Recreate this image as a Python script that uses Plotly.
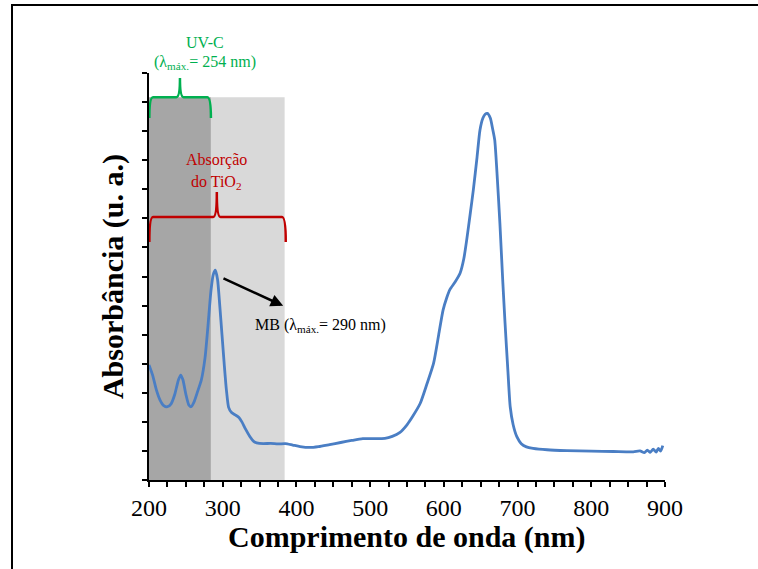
import plotly.graph_objects as go

# Absorption spectrum of methylene blue (MB)
wavelength_nm = [
    200, 205, 210, 215, 220, 225, 230, 235, 240, 243, 246, 250, 254, 257, 261,
    266, 271, 276, 280, 284, 287, 290, 293, 296, 299, 302, 305, 308, 312, 317,
    322, 326, 331, 337, 342, 346, 355, 365, 375, 385, 395, 405, 418, 430, 445,
    460, 475, 490, 505, 520, 530, 540, 550, 558, 568, 577, 586, 593, 599, 604,
    608, 615, 622, 627, 631, 636, 640, 645, 649, 653, 656, 659, 663, 666, 669,
    672, 676, 680, 683, 687, 690, 694, 699, 705, 712, 721, 740, 767, 800, 830,
    857, 866, 872, 876, 880, 884, 888, 891, 894, 897,
]
absorbance = [
    0.396, 0.360, 0.310, 0.275, 0.256, 0.252, 0.262, 0.295, 0.345, 0.361, 0.345,
    0.295, 0.258, 0.252, 0.268, 0.305, 0.344, 0.420, 0.530, 0.650, 0.705, 0.722,
    0.690, 0.600, 0.500, 0.400, 0.310, 0.250, 0.232, 0.224, 0.215, 0.200, 0.175,
    0.149, 0.133, 0.128, 0.125, 0.126, 0.124, 0.125, 0.120, 0.115, 0.112, 0.115,
    0.122, 0.129, 0.136, 0.142, 0.142, 0.143, 0.150, 0.163, 0.190, 0.220, 0.264,
    0.330, 0.401, 0.500, 0.585, 0.628, 0.654, 0.680, 0.711, 0.760, 0.826, 0.920,
    0.998, 1.110, 1.204, 1.245, 1.258, 1.261, 1.245, 1.210, 1.170, 1.060, 0.884,
    0.680, 0.540, 0.370, 0.252, 0.190, 0.149, 0.125, 0.114, 0.109, 0.104, 0.101,
    0.099, 0.098, 0.097, 0.100, 0.094, 0.103, 0.095, 0.106, 0.096, 0.109, 0.099,
    0.118,
]

# Spectral bands highlighted behind the curve (nm)
uvc_band = [200, 284]
tio2_band = [284, 384]
band_top = 1.317

x_ticks = [200, 300, 400, 500, 600, 700, 800, 900]
x_tick_text = ["200", "300", "400", "500", "600", "700", "800", "900"]

SERIF = "Liberation Serif"
BLUE = "#4A7EC4"
GREEN = "#00B050"
RED = "#C00000"


def brace(x0, x1, xm, y_base, y_end, y_tip, rx):
    """Horizontal curly brace opening downward, pointing up at xm."""
    return (
        f"M {x0},{y_end} Q {x0},{y_base} {x0 + rx},{y_base} "
        f"L {xm - rx},{y_base} Q {xm},{y_base} {xm},{y_tip} "
        f"Q {xm},{y_base} {xm + rx},{y_base} "
        f"L {x1 - rx},{y_base} Q {x1},{y_base} {x1},{y_end}"
    )


fig = go.Figure()

fig.add_trace(go.Scatter(
    x=wavelength_nm, y=absorbance, mode="lines",
    line=dict(color=BLUE, width=2.8, shape="spline", smoothing=0.6),
    showlegend=False, hoverinfo="skip",
))

shapes = [
    # shaded bands
    dict(type="rect", xref="x", yref="y", x0=uvc_band[0], x1=uvc_band[1],
         y0=0, y1=band_top, fillcolor="#A6A6A6", line_width=0, layer="below"),
    dict(type="rect", xref="x", yref="y", x0=tio2_band[0], x1=tio2_band[1],
         y0=0, y1=band_top, fillcolor="#D9D9D9", line_width=0, layer="below"),
    # UV-C brace
    dict(type="path", xref="x", yref="y",
         path=brace(200.5, 284, 242, 1.317, 1.245, 1.383, 5),
         line=dict(color=GREEN, width=2.5)),
    # TiO2 absorption brace
    dict(type="path", xref="x", yref="y",
         path=brace(200.5, 385.5, 292, 0.905, 0.819, 0.991, 5),
         line=dict(color=RED, width=2.5)),
    # frame around the figure
    dict(type="rect", xref="paper", yref="paper",
         x0=-0.2655, x1=1.2, y0=-0.25, y1=1.167,
         line=dict(color="black", width=2), fillcolor="rgba(0,0,0,0)"),
]

annotations = [
    dict(x=276, y=1.076, xref="x", yref="paper", text="UV-C", showarrow=False,
         xanchor="center", yanchor="middle",
         font=dict(family=SERIF, size=16, color=GREEN)),
    dict(x=276, y=1.027, xref="x", yref="paper",
         text="(λ<sub>máx.</sub>= 254 nm)", showarrow=False,
         xanchor="center", yanchor="middle",
         font=dict(family=SERIF, size=16, color=GREEN)),
    dict(x=292, y=1.101, xref="x", yref="y", text="Absorção", showarrow=False,
         xanchor="center", yanchor="middle",
         font=dict(family=SERIF, size=16, color=RED)),
    dict(x=292, y=1.025, xref="x", yref="y", text="do TiO<sub>2</sub>",
         xanchor="center", yanchor="middle",
         showarrow=False, font=dict(family=SERIF, size=16, color=RED)),
    dict(x=341, y=0.53, xref="x", yref="y", xanchor="left", yanchor="middle",
         text="MB (λ<sub>máx.</sub>= 290 nm)", showarrow=False,
         font=dict(family=SERIF, size=16, color="black")),
    # arrow pointing from the MB peak towards its label
    dict(x=382, y=0.599, xref="x", yref="y", ax=299, ay=0.696,
         axref="x", ayref="y", text="", showarrow=True,
         arrowhead=2, arrowsize=1, arrowwidth=2.5, arrowcolor="black"),
    # axis titles
    dict(x=0.5, y=-0.14, xref="paper", yref="paper",
         xanchor="center", yanchor="middle",
         text="<b>Comprimento de onda (nm)</b>", showarrow=False,
         font=dict(family=SERIF, size=30, color="black")),
    dict(x=-0.0698, y=0.501, xref="paper", yref="paper", textangle=-90,
         xanchor="center", yanchor="middle",
         text="<b>Absorbância (u. a.)</b>", showarrow=False,
         font=dict(family=SERIF, size=30, color="black")),
]

fig.update_layout(
    width=758, height=569,
    margin=dict(l=149, r=93, t=73, b=89),
    paper_bgcolor="white", plot_bgcolor="white",
    font=dict(family=SERIF, color="black"),
    shapes=shapes, annotations=annotations,
    showlegend=False,
)

fig.update_xaxes(
    range=[200, 900], showgrid=False, zeroline=False,
    showline=True, linecolor="black", linewidth=1.5,
    tickmode="array", tickvals=x_ticks, ticktext=x_tick_text,
    ticks="outside", ticklen=5, tickwidth=1.5, tickcolor="black",
    tickfont=dict(family=SERIF, size=24, color="black"),
    minor=dict(dtick=25, tick0=200, ticks="outside", ticklen=5,
               tickwidth=1.5, tickcolor="black", showgrid=False),
)

fig.update_yaxes(
    range=[0, 1.4], showgrid=False, zeroline=False,
    showline=True, linecolor="black", linewidth=1.5,
    dtick=0.1, tick0=0, ticks="outside", ticklen=5, tickwidth=1.5,
    tickcolor="black", showticklabels=False,
)

fig.write_html("out.html")
